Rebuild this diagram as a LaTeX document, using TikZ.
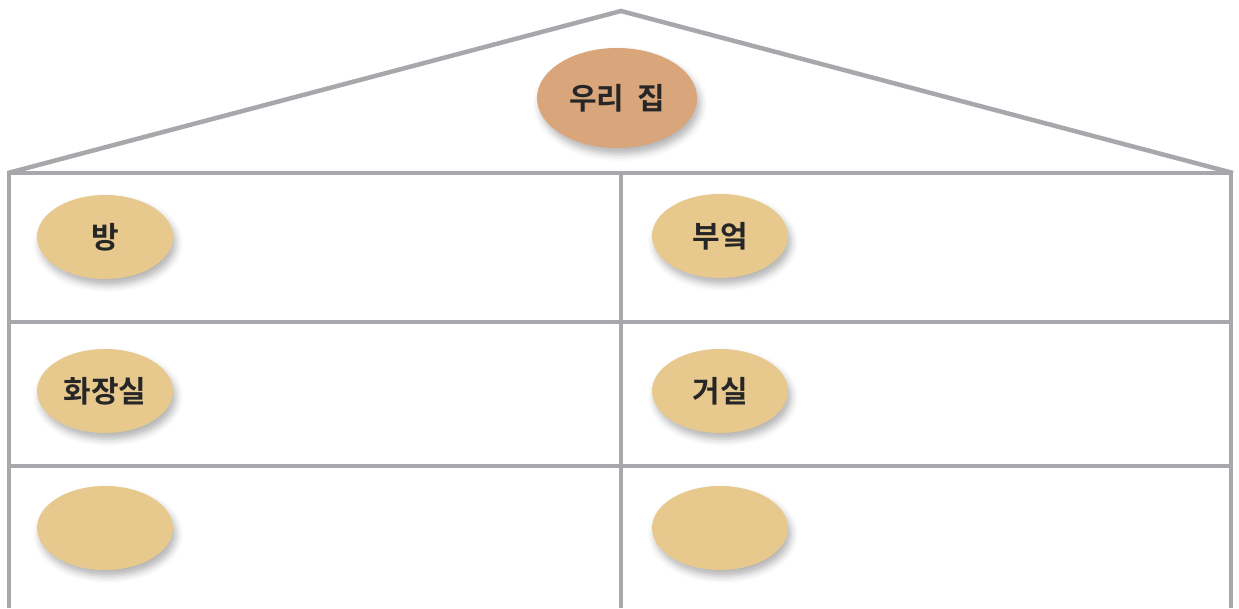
\documentclass[tikz,border=0pt]{standalone}
\usepackage{fontspec}
\setmainfont{Noto Sans CJK KR Bold}
\usetikzlibrary{shapes.geometric,shadows.blur}
\definecolor{wallgray}{RGB}{167,167,172}
\definecolor{roofoval}{RGB}{217,165,123}
\definecolor{roomoval}{RGB}{232,201,141}

\begin{document}
\begin{tikzpicture}[x=1pt,y=1pt,
	wall/.style={draw=wallgray, line width=4.5pt, line join=miter},
	oval/.style={ellipse, fill=roomoval, minimum width=136pt, minimum height=84pt, inner sep=0pt,
		font=\fontsize{30}{30}\selectfont, text=black!85,
		blur shadow={shadow xshift=3pt, shadow yshift=-6pt, shadow blur radius=7pt, shadow opacity=30}},
	bigoval/.style={oval, fill=roofoval, minimum width=160pt, minimum height=100pt}]
	\useasboundingbox (0,0) rectangle (1239,608);
	\draw[wall] (8,435) -- (621,597) -- (1233,435);
	\draw[wall] (9,0) -- (9,435) -- (1231,435) -- (1231,0);
	\draw[wall] (621,0) -- (621,435);
	\draw[wall] (9,286) -- (1231,286);
	\draw[wall] (9,142) -- (1231,142);
	\node[bigoval] (home) at (617,510) {우리\hspace{6pt} 집};
	\node[oval] (bang) at (105,371) {방};
	\node[oval] (bueok) at (720,372) {부엌};
	\node[oval] (hwajangsil) at (105,217) {화장실};
	\node[oval] (geosil) at (720,217) {거실};
	\node[oval] (empty1) at (105,80) {};
	\node[oval] (empty2) at (720,80) {};
\end{tikzpicture}
\end{document}
